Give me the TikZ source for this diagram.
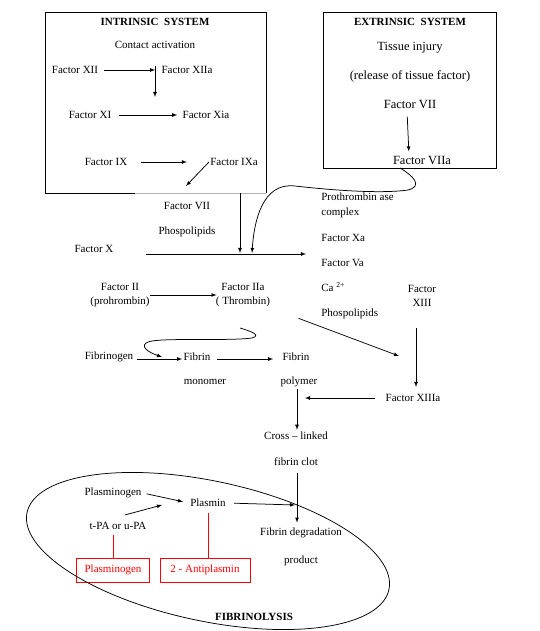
\documentclass[tikz,border=0pt]{standalone}
\usepackage{fontspec}
\setmainfont{Liberation Serif}
\usetikzlibrary{arrows}
\usetikzlibrary{calc}
\usetikzlibrary{positioning}

\begin{document}
\begin{tikzpicture}[x=1pt,y=-1pt,->,>=latex,line width=0.75pt,font=\fontsize{11}{13}\selectfont]
				\tikzstyle{every node}=[inner sep=1pt, text=black]
				\tikzstyle{title}=[font=\fontsize{11}{13}\selectfont\bfseries]
				\tikzstyle{big}=[font=\fontsize{12.5}{14}\selectfont]
				\tikzstyle{twoline}=[align=center, font=\fontsize{11}{14}\selectfont]
				\tikzstyle{inhib}=[draw=red, text=red, minimum height=24pt, inner sep=3pt]
				\tikzstyle{inhline}=[-, draw=red]
						\useasboundingbox (0,0) rectangle (539,631);

						\draw[-] (135,193) -| (45,12) -| (266,193);
						\draw[-, black!30] (135,193) -- (266,193);
						\draw[-] (323,12) rectangle (496,168);

						\node[title] (IT) at (155,22) {INTRINSIC\ \ SYSTEM};
						\node (CA) at (155,45) {Contact activation};
						\node (F12) at (75,70) {Factor XII};
						\node (F12a) at (187,70) {Factor XIIa};
						\node (F11) at (90,115) {Factor XI};
						\node (F11a) at (206,115) {Factor Xia};
						\node (F9) at (106,162) {Factor IX};
						\node (F9a) at (234,162) {Factor IXa};
						\coordinate (c12) at (155,66);
						\coordinate (c11) at (155,97);
						\coordinate (c9) at (186,186);

						\node[title] (ET) at (410,22) {EXTRINSIC\ \ SYSTEM};
						\node[big] (TI) at (410,48) {Tissue injury};
						\node[big] (RT) at (410,76) {(release of tissue factor)};
						\node[big] (F7) at (410,105) {Factor VII};
						\node[big] (F7a) at (422,161) {Factor VIIa};
						\coordinate (eb) at (400,168);

						\node (F7b) at (187,206) {Factor VII};
						\node (PL1) at (187,232) {Phospolipids};
						\node (FX) at (94,249) {Factor X};
						\coordinate (ib) at (240,193);
						\coordinate (j1) at (240,253);
						\coordinate (j0) at (252,253);
						\coordinate (PTC) at (306,254);

						\node[anchor=west] (PT) at (320,197) {Prothrombin ase};
						\node[anchor=west] (CX) at (320,213) {complex};
						\node[anchor=west] (FXa) at (320,238) {Factor Xa};
						\node[anchor=west] (FVa) at (320,263) {Factor Va};
						\node[anchor=west] (Ca) at (320,287) {Ca \textsuperscript{2+}};
						\node[anchor=west] (PL2) at (320,314) {Phospolipids};

						\node[twoline] (F2) at (120,295) {Factor II\\(prohrombin)};
						\node[twoline] (F2a) at (243,295) {Factor IIa\\( Thrombin)};
						\node[twoline] (F13) at (422,296) {Factor\\XIII};
						\node (F13a) at (413,398) {Factor XIIIa};
						\coordinate (t2) at (399,356);
						\coordinate (t3) at (240,328);

						\node (FG) at (109,357) {Fibrinogen};
						\node (FM) at (197,357) {Fibrin};
						\node (FMb) at (205,382) {monomer};
						\node (FP) at (296,357) {Fibrin};
						\node (FPb) at (299,382) {polymer};
						\coordinate (j3) at (162,357);
						\coordinate (j2) at (305,398);

						\node (CL) at (296,436) {Cross – linked};
						\node (FC) at (296,462) {fibrin clot};
						\node (FD) at (301,533) {Fibrin degradation};
						\node (FDb) at (301,561) {product};

						\node (PG) at (113,493) {Plasminogen};
						\node (PM) at (208,503) {Plasmin};
						\node (TPA) at (118,526) {t-PA or u-PA};
						\node[inhib, minimum width=73pt] (RPG) at (113,570) {Plasminogen};
						\node[inhib, minimum width=90pt] (RAP) at (205,570) {2 - Antiplasmin};
						\coordinate (j4) at (162,505);
						\coordinate (j5) at (295,505);
						\node[title] (FL) at (254,617) {FIBRINOLYSIS};

						\path[shorten <=5pt, shorten >=5pt] (F12) edge (F12a);
						\path (c12) edge (c11);
						\path[shorten <=6pt, shorten >=4pt] (F11) edge (F11a);
						\path[shorten <=12pt, shorten >=22pt] (F9) edge (F9a);
						\path (F9a.west) edge (c9);
						\path[shorten <=6pt, shorten >=4pt] ([xshift=-3pt]F7.south) edge ([xshift=-13pt]F7a.north);

						\path (ib) edge (j1);
						\draw (eb) .. controls (412,175) and (424,186) .. (408,190)
							.. controls (380,194) and (330,190) .. (295,186)
							.. controls (262,182) and (254,222) .. (j0);
						\path[shorten <=31pt] ([yshift=-5pt]FX.east) edge (PTC);

						\path[shorten <=-1pt, shorten >=-2pt] (F2) edge (F2a);
						\path[shorten <=29pt] (F2a.south east) edge (t2);
						\path[shorten <=20pt, shorten >=6pt] ([xshift=-6pt]F13.south) edge ([xshift=3pt]F13a.north);
						\path[shorten <=9pt] (F13a.west) edge (j2);

						\draw (t3) .. controls (250,331) and (262,335) .. (252,338)
							.. controls (230,341) and (170,338) .. (152,341)
							.. controls (140,343) and (142,350) .. (j3);
						\path[shorten <=2pt] ([yshift=-2pt]FG.east) edge ([yshift=-2pt]FM.west);
						\path[shorten <=5pt, shorten >=8pt] ([yshift=-2pt]FM.east) edge ([yshift=-2pt]FP.west);
						\path[shorten <=1pt, shorten >=1pt] ([xshift=-2pt]FPb.south) edge ([xshift=1pt]CL.north);
						\path[shorten <=6pt, shorten >=4pt] ([xshift=1pt]FC.south) edge ([xshift=-4pt]FD.north);

						\path[shorten <=4pt, shorten >=6pt] (PG.east) edge (PM.west);
						\path ([xshift=7pt,yshift=6pt]TPA.north) edge (j4);
						\path[shorten <=7pt] (PM.east) edge (j5);
						\path[inhline, shorten <=4pt] (RPG.north |- TPA.south) edge (RPG.north);
						\path[inhline, shorten <=5pt] (PM.south) edge (PM.south |- RAP.north);

						\draw[-, rotate around={-12:(208,551)}] (208,551) ellipse [x radius=185, y radius=70];

				\end{tikzpicture}
\end{document}
